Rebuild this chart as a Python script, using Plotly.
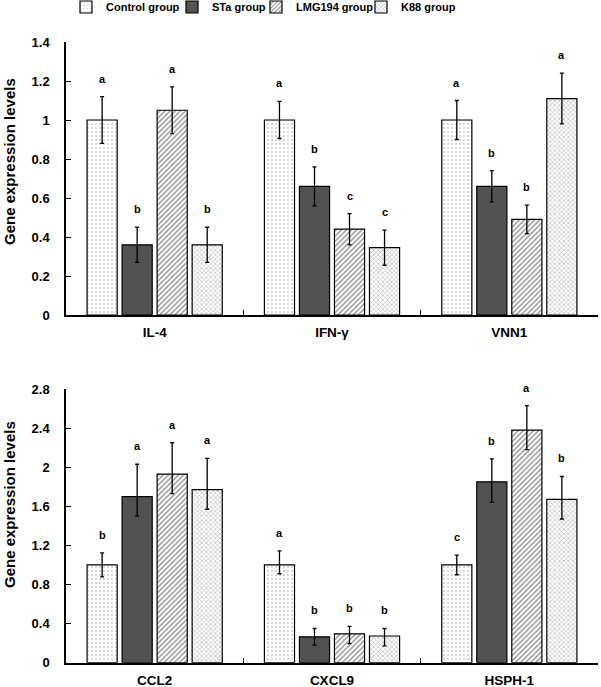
import plotly.graph_objects as go
from plotly.subplots import make_subplots

groups = ["Control group", "STa group", "LMG194 group", "K88 group"]

genes_top = ["IL-4", "IFN-γ", "VNN1"]
top_vals = {
    "Control group": [1.00, 1.00, 1.00],
    "STa group": [0.36, 0.66, 0.66],
    "LMG194 group": [1.05, 0.44, 0.49],
    "K88 group": [0.36, 0.345, 1.11],
}
top_err_plus = {
    "Control group": [0.12, 0.095, 0.10],
    "STa group": [0.09, 0.10, 0.08],
    "LMG194 group": [0.12, 0.08, 0.073],
    "K88 group": [0.09, 0.09, 0.13],
}
top_err_minus = {
    "Control group": [0.12, 0.095, 0.10],
    "STa group": [0.09, 0.10, 0.08],
    "LMG194 group": [0.12, 0.08, 0.073],
    "K88 group": [0.09, 0.09, 0.13],
}
top_letters = {
    "Control group": ["a", "a", "a"],
    "STa group": ["b", "b", "b"],
    "LMG194 group": ["a", "c", "b"],
    "K88 group": ["b", "c", "a"],
}

genes_bot = ["CCL2", "CXCL9", "HSPH-1"]
bot_vals = {
    "Control group": [1.00, 1.00, 1.00],
    "STa group": [1.70, 0.265, 1.85],
    "LMG194 group": [1.93, 0.295, 2.38],
    "K88 group": [1.77, 0.273, 1.67],
}
bot_err_plus = {
    "Control group": [0.123, 0.145, 0.10],
    "STa group": [0.33, 0.085, 0.235],
    "LMG194 group": [0.32, 0.077, 0.25],
    "K88 group": [0.32, 0.077, 0.235],
}
bot_err_minus = {
    "Control group": [0.123, 0.09, 0.10],
    "STa group": [0.20, 0.085, 0.21],
    "LMG194 group": [0.20, 0.10, 0.20],
    "K88 group": [0.20, 0.10, 0.20],
}
bot_letters = {
    "Control group": ["b", "a", "c"],
    "STa group": ["a", "b", "b"],
    "LMG194 group": ["a", "b", "a"],
    "K88 group": ["a", "b", "b"],
}

styles = {
    "Control group": dict(color="white", pattern=dict(shape=".", fgcolor="#9a9a9a", bgcolor="white", size=4, solidity=0.2)),
    "STa group": dict(color="#525252"),
    "LMG194 group": dict(color="white", pattern=dict(shape="/", fgcolor="#333333", bgcolor="white", size=3.6, solidity=0.42)),
    "K88 group": dict(color="white", pattern=dict(shape="x", fgcolor="#808080", bgcolor="white", size=3.2, solidity=0.4)),
}

FONT = "Arial, Liberation Sans, sans-serif"
BARGAP = 0.21
GROUPGAP = 0.14

# plot-area geometry (pixels)
W, H = 601, 687
ML, MR, MT, MB = 66, 3, 42, 24
PW, PH = W - ML - MR, H - MT - MB


def py(pix):
    return (H - MB - pix) / PH


def px(pix):
    return (pix - ML) / PW


fig = make_subplots(rows=2, cols=1)

panels = [
    (1, genes_top, top_vals, top_err_plus, top_err_minus, top_letters),
    (2, genes_bot, bot_vals, bot_err_plus, bot_err_minus, bot_letters),
]

legend_text_left = {"Control group": 104, "STa group": 210, "LMG194 group": 294, "K88 group": 399}
legend_names = {"Control group": "legend", "STa group": "legend2", "LMG194 group": "legend3", "K88 group": "legend4"}

annotations = []
n = len(groups)
slot = (1 - BARGAP) / n
for row, genes, vals, ep, em, letters in panels:
    for j, g in enumerate(groups):
        fig.add_trace(
            go.Bar(
                x=genes, y=vals[g], name=g, showlegend=(row == 1),
                legendgroup=g, legend=legend_names[g],
                marker=dict(line=dict(color="black", width=1.2), **styles[g]),
                error_y=dict(type="data", symmetric=False, array=ep[g], arrayminus=em[g],
                             color="black", thickness=1.3, width=2),
            ),
            row=row, col=1,
        )
        xref = "x" if row == 1 else "x2"
        yref = "y" if row == 1 else "y2"
        for i, gene in enumerate(genes):
            annotations.append(dict(
                x=i + (j - (n - 1) / 2) * slot, y=vals[g][i] + ep[g][i],
                xref=xref, yref=yref, text=letters[g][i], showarrow=False,
                yanchor="bottom", yshift=10,
                font=dict(family=FONT, size=11, color="black", weight="bold"),
            ))

# y axis titles
for yc in [py(162), py(505)]:
    annotations.append(dict(
        x=px(9), y=yc, xref="paper", yref="paper", text="Gene expression levels",
        textangle=-90, showarrow=False, xanchor="center", yanchor="middle",
        font=dict(family=FONT, size=15, color="black", weight="bold"),
    ))

axis_common = dict(showline=True, linecolor="black", linewidth=1.5, showgrid=False,
                   zeroline=False, tickcolor="black", automargin=False)

fig.update_xaxes(**axis_common, ticks="inside", ticklen=5, tickson="boundaries",
                 domain=[0, 1], ticklabelstandoff=4,
                 tickfont=dict(family=FONT, size=13.5, color="black", weight="bold"))
fig.update_yaxes(**axis_common, ticks="inside", ticklen=5, ticklabelstandoff=12,
                 tickfont=dict(family=FONT, size=13, color="black", weight="bold"))
fig.update_yaxes(range=[0, 1.4], dtick=0.2, domain=[py(315), py(42)], row=1, col=1)
fig.update_yaxes(range=[0, 2.8], dtick=0.4, domain=[max(py(662.7), 0), py(389)], row=2, col=1)

legend_style = dict(orientation="h", y=py(7), yanchor="middle", xanchor="left",
                    font=dict(family=FONT, size=11, color="black", weight="bold"),
                    itemwidth=30, bgcolor="rgba(0,0,0,0)", borderwidth=0)

layout_legends = {}
for g in groups:
    layout_legends[legend_names[g]] = dict(legend_style, x=px(legend_text_left[g] - 38))

fig.update_layout(
    width=W, height=H,
    margin=dict(l=ML, r=MR, t=MT, b=MB, autoexpand=False),
    paper_bgcolor="white", plot_bgcolor="white",
    barmode="group", bargap=BARGAP, bargroupgap=GROUPGAP,
    font=dict(family=FONT, color="black"),
    annotations=annotations,
    **layout_legends,
)

fig.write_html("out.html", config={"displayModeBar": False},
               post_script="document.body.style.margin='0';")
